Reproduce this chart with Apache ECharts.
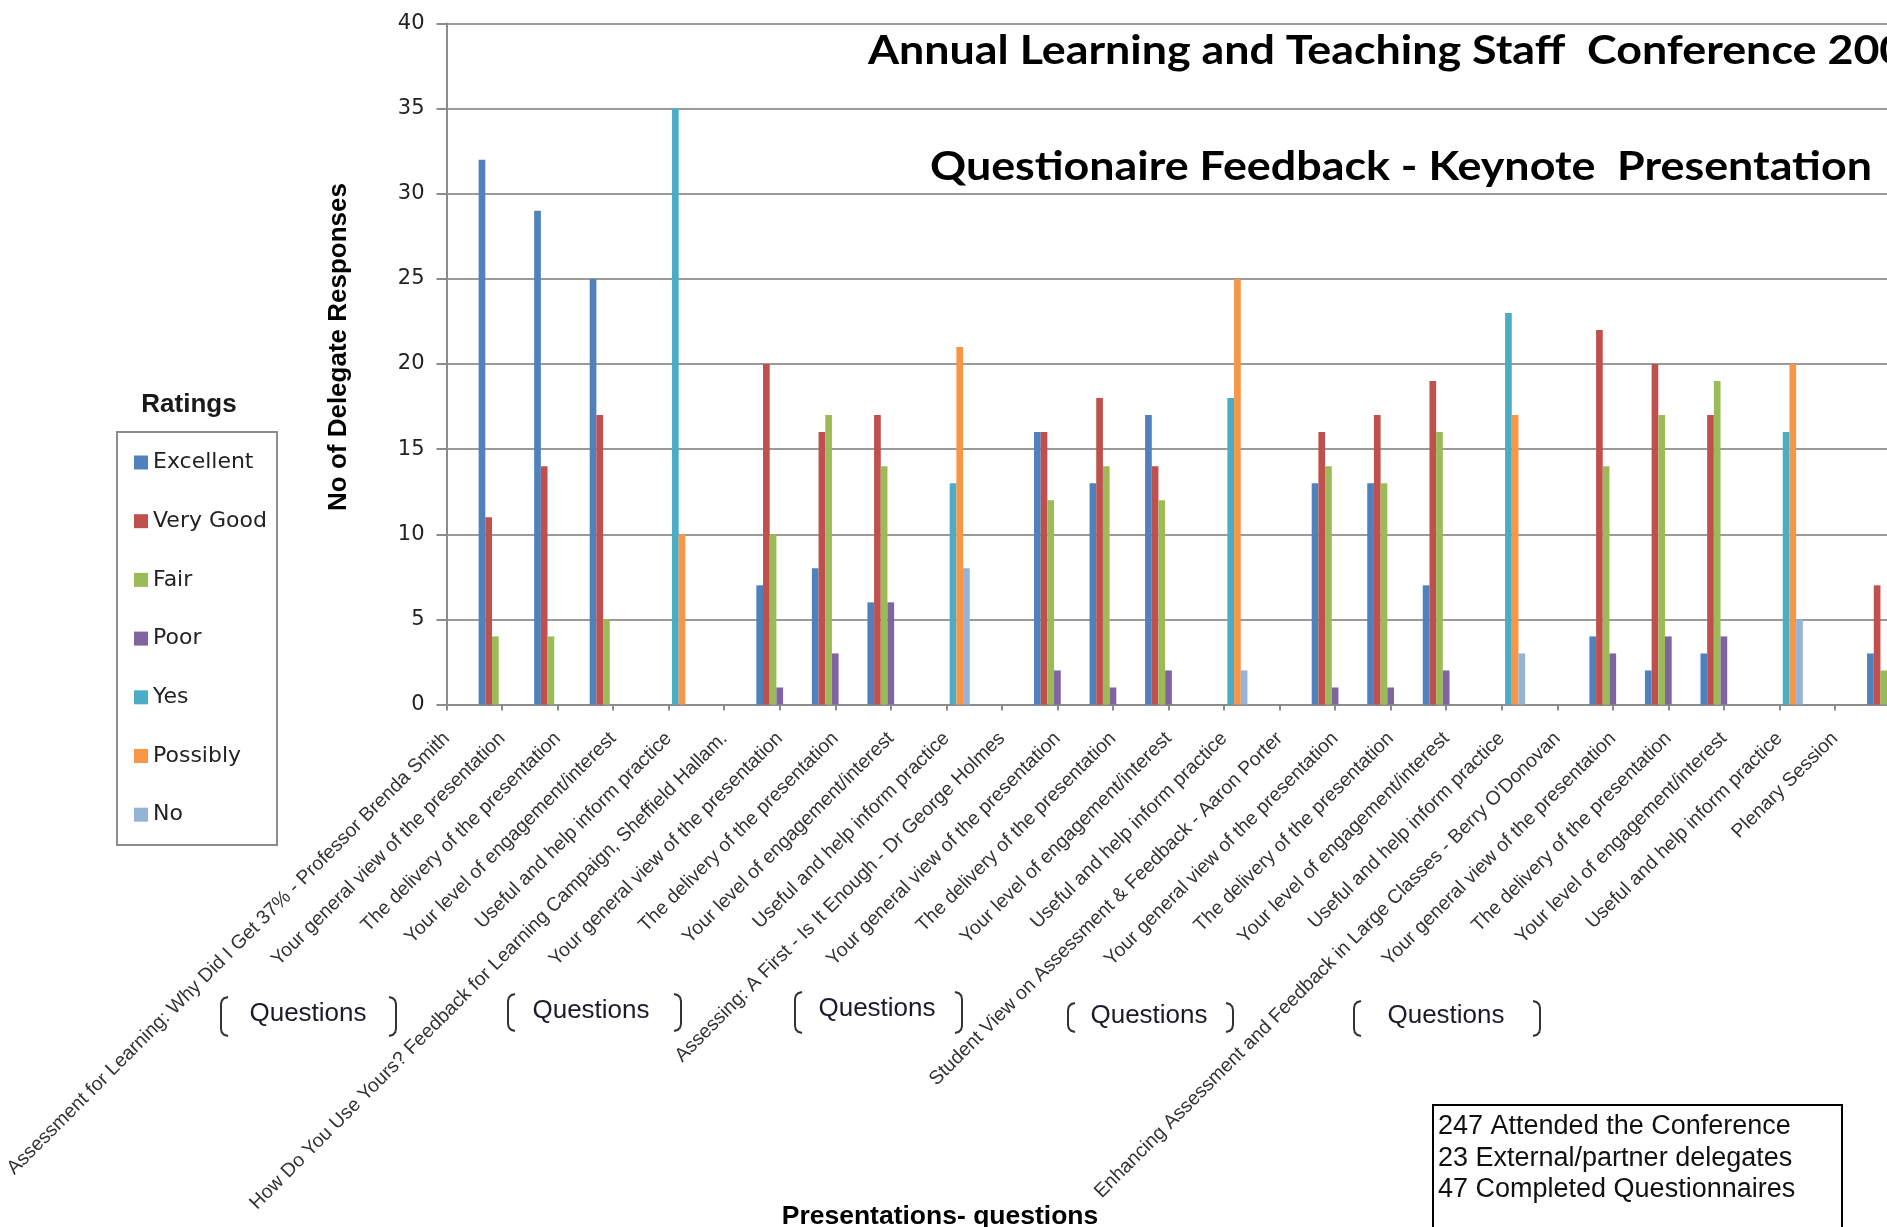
<!DOCTYPE html>
<html><head><meta charset="utf-8">
<script src="https://cdn.jsdelivr.net/npm/echarts@6/dist/echarts.min.js"></script>
<style>html,body{margin:0;padding:0;background:#fff;overflow:hidden}#c{width:1887px;height:1227px}</style>
</head><body><div id="c"></div><script>
const categories = [
  "Assessment for Learning: Why Did I Get 37% - Professor Brenda Smith",
  "Your general view of the presentation",
  "The delivery of the presentation",
  "Your level of engagement/interest",
  "Useful and help inform practice",
  "How Do You Use Yours? Feedback for Learning Campaign, Sheffield Hallam.",
  "Your general view of the presentation",
  "The delivery of the presentation",
  "Your level of engagement/interest",
  "Useful and help inform practice",
  "Assessing: A First - Is It Enough - Dr George Holmes",
  "Your general view of the presentation",
  "The delivery of the presentation",
  "Your level of engagement/interest",
  "Useful and help inform practice",
  "Student View on Assessment & Feedback - Aaron Porter",
  "Your general view of the presentation",
  "The delivery of the presentation",
  "Your level of engagement/interest",
  "Useful and help inform practice",
  "Enhancing Assessment and Feedback in Large Classes - Berry O'Donovan",
  "Your general view of the presentation",
  "The delivery of the presentation",
  "Your level of engagement/interest",
  "Useful and help inform practice",
  "Plenary Session",
  ""
];
const seriesNames = ["Excellent", "Very Good", "Fair", "Poor", "Yes", "Possibly", "No"];
const seriesColors = ["#4F81BD", "#C0504D", "#9BBB59", "#8064A2", "#4BACC6", "#F79646", "#95B3D7"];
const excellent = [null,32,29,25,null,null,7,8,6,null,null,16,13,17,null,null,13,13,7,null,null,4,2,3,null,null,3];
const veryGood  = [null,11,14,17,null,null,20,16,17,null,null,16,18,14,null,null,16,17,19,null,null,22,20,17,null,null,7];
const fair      = [null,4,4,5,null,null,10,17,14,null,null,12,14,12,null,null,14,13,16,null,null,14,17,19,null,null,2];
const poor      = [null,null,null,null,null,null,1,3,6,null,null,2,1,2,null,null,1,1,2,null,null,3,4,4,null,null,null];
const yes       = [null,null,null,null,35,null,null,null,null,13,null,null,null,null,18,null,null,null,null,23,null,null,null,null,16,null,null];
const possibly  = [null,null,null,null,10,null,null,null,null,21,null,null,null,null,25,null,null,null,null,17,null,null,null,null,20,null,null];
const no        = [null,null,null,null,null,null,null,null,null,8,null,null,null,null,2,null,null,null,null,3,null,null,null,null,5,null,null];
const seriesValues = [excellent, veryGood, fair, poor, yes, possibly, no];
const yTicks = { min: 0, max: 40, interval: 5 };
const titleLine1 = "Annual Learning and Teaching Staff  Conference 2009";
const titleLine2 = "Questionaire Feedback - Keynote  Presentation";
const yAxisTitle = "No of Delegate Responses";
const xAxisTitle = "Presentations- questions";
const legendTitle = "Ratings";
const groupNote = "Questions";
const statsLines = ["247 Attended the Conference", "23 External/partner delegates", "47 Completed Questionnaires"];

const chart = echarts.init(document.getElementById('c'), null, {renderer: 'canvas'});

const brackets = [
  [221, 396, 997, 1036, 308, 1014],
  [508, 681, 994, 1031, 591, 1011],
  [795, 962, 992, 1033, 877, 1009],
  [1068, 1233, 1003, 1032, 1149, 1016],
  [1354, 1540, 1001, 1036, 1446, 1016]
];
function bracketPts(x, t, b, dir) {
  const h = 7 * dir;
  return [[x + h, t], [x + h * 0.45, t + 1.2], [x + h * 0.12, t + 3.5], [x, t + 7],
          [x, b - 7], [x + h * 0.12, b - 3.5], [x + h * 0.45, b - 1.2], [x + h, b]];
}
const graphics = [];
brackets.forEach(bk => {
  const [l, r, t, bt, cx, cy] = bk;
  graphics.push({type: 'polyline', shape: {points: bracketPts(l, t, bt, 1)}, style: {stroke: '#333', lineWidth: 2, fill: null}});
  graphics.push({type: 'polyline', shape: {points: bracketPts(r, t, bt, -1)}, style: {stroke: '#333', lineWidth: 2, fill: null}});
  graphics.push({type: 'text', x: cx, y: cy, style: {text: groupNote, fill: '#1a1a2a', fontSize: 26, fontFamily: 'Liberation Sans', textAlign: 'center', textVerticalAlign: 'middle'}});
});
graphics.push({type: 'text', x: 868, y: 51, scaleX: 1.12, style: {text: titleLine1, fill: '#000', fontSize: 40, fontWeight: 'bold', fontFamily: 'Lato', textAlign: 'left', textVerticalAlign: 'middle'}});
graphics.push({type: 'text', x: 930, y: 167, scaleX: 1.12, style: {text: titleLine2, fill: '#000', fontSize: 40, fontWeight: 'bold', fontFamily: 'Lato', textAlign: 'left', textVerticalAlign: 'middle'}});
graphics.push({type: 'text', x: 339, y: 347, rotation: Math.PI / 2, style: {text: yAxisTitle, fill: '#000', fontSize: 26, fontWeight: 'bold', fontFamily: 'Liberation Sans', textAlign: 'center', textVerticalAlign: 'middle'}});
graphics.push({type: 'text', x: 940, y: 1217, style: {text: xAxisTitle, fill: '#000', fontSize: 26.5, fontWeight: 'bold', fontFamily: 'Liberation Sans', textAlign: 'center', textVerticalAlign: 'middle'}});
graphics.push({type: 'text', x: 189, y: 405, style: {text: legendTitle, fill: '#1a1a1a', fontSize: 26, fontWeight: 'bold', fontFamily: 'Liberation Sans', textAlign: 'center', textVerticalAlign: 'middle'}});
graphics.push({type: 'rect', shape: {x: 117, y: 432, width: 160, height: 413}, style: {stroke: '#8c8c8c', lineWidth: 2, fill: null}});
graphics.push({type: 'rect', shape: {x: 1433, y: 1105, width: 409, height: 160}, style: {stroke: '#000', lineWidth: 2, fill: '#fff'}});
statsLines.forEach((s, i) => {
  graphics.push({type: 'text', x: 1438, y: 1127 + i * 31.5, style: {text: s, fill: '#111', fontSize: 27, fontFamily: 'Liberation Sans', textAlign: 'left', textVerticalAlign: 'middle'}});
});

const option = {
  animation: false,
  backgroundColor: '#fff',
  grid: {left: 446.5, top: 23.5, right: -3.5, bottom: 522.5, containLabel: false, outerBoundsMode: 'none'},
  legend: {
    orient: 'vertical', left: 129, top: 446.5, itemWidth: 14, itemHeight: 14, itemGap: 36.7,
    icon: 'rect', data: seriesNames,
    textStyle: {fontSize: 22, fontFamily: 'DejaVu Sans', color: '#222'}
  },
  xAxis: {
    type: 'category', data: categories, boundaryGap: false,
    axisLine: {lineStyle: {color: '#8c8c8c', width: 2}},
    axisTick: {show: true, length: 6, interval: 0, lineStyle: {color: '#8c8c8c', width: 2}},
    axisLabel: {interval: 0, rotate: 45, margin: 31, fontSize: 19.5, fontFamily: 'Liberation Sans', color: '#333'},
    splitLine: {show: false}
  },
  yAxis: {
    type: 'value', min: yTicks.min, max: yTicks.max, interval: yTicks.interval,
    axisLine: {show: true, lineStyle: {color: '#8c8c8c', width: 2}},
    axisTick: {show: true, length: 10, lineStyle: {color: '#8c8c8c', width: 2}},
    axisLabel: {margin: 22, fontSize: 21, fontFamily: 'DejaVu Sans', color: '#222'},
    splitLine: {lineStyle: {color: '#9a9a9a', width: 2}}
  },
  series: seriesNames.map((n, i) => ({
    name: n, type: 'bar', data: seriesValues[i], barGap: '0%', barCategoryGap: '15.7%',
    itemStyle: {color: seriesColors[i]}
  })),
  graphic: {elements: graphics}
};
chart.setOption(option);
</script></body></html>
